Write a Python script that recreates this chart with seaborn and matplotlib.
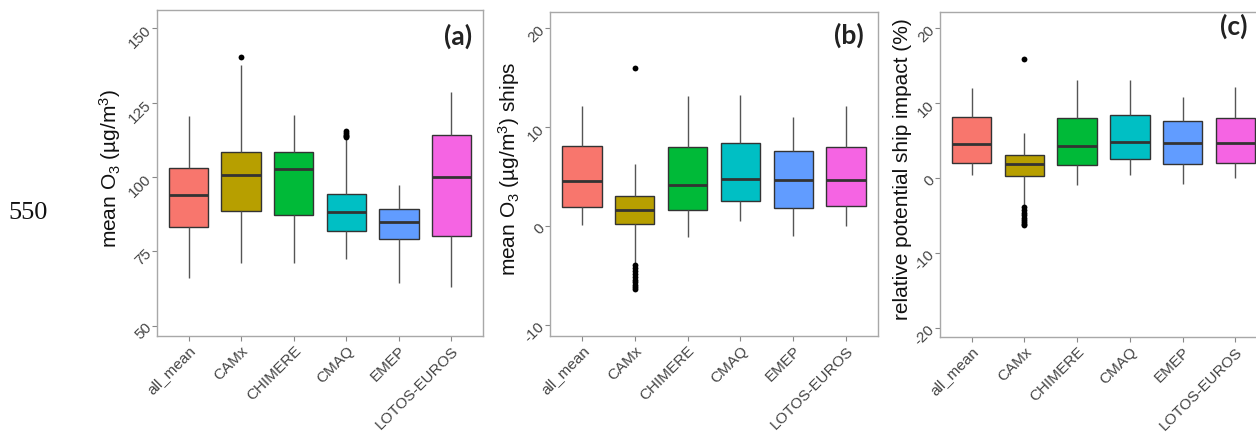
import numpy as np
import pandas as pd
import matplotlib
matplotlib.use("Agg")
import matplotlib.pyplot as plt
import seaborn as sns

# ---------------- data ----------------
models = ["all_mean", "CAMx", "CHIMERE", "CMAQ", "EMEP", "LOTOS-EUROS"]
colors = ["#F8766D", "#B79F00", "#00BA38", "#00BFC4", "#619CFF", "#F564E3"]

# panel (a): mean O3 (ug/m3)
a_low = [66.0, 71.0, 71.0, 72.3, 64.3, 63.0]
a_q1 = [83.3, 88.7, 87.3, 82.0, 79.3, 80.2]
a_med = [94.0, 100.7, 102.7, 88.3, 85.0, 100.0]
a_q3 = [103.0, 108.3, 108.3, 94.3, 89.3, 114.1]
a_high = [120.6, 137.7, 121.0, 112.7, 97.3, 128.6]
a_out_model = ["CAMx", "CMAQ", "CMAQ", "CMAQ", "CMAQ", "CMAQ"]
a_out_value = [140.3, 113.3, 113.8, 114.3, 114.8, 115.4]

# panel (b): mean O3 (ug/m3) ships
b_low = [0.1, -3.7, -1.1, 0.5, -1.0, 0.0]
b_q1 = [1.9, 0.2, 1.6, 2.5, 1.8, 2.0]
b_med = [4.5, 1.6, 4.1, 4.7, 4.6, 4.6]
b_q3 = [8.1, 3.0, 8.0, 8.4, 7.6, 8.0]
b_high = [12.1, 6.3, 13.1, 13.2, 11.0, 12.1]
b_out_model = ["CAMx"] * 11
b_out_value = [15.9, -3.9, -4.2, -4.5, -4.8, -5.1, -5.4, -5.7, -6.0, -6.2, -6.4]

# panel (c): relative potential ship impact (%)
c_low = [0.4, -3.6, -0.9, 0.4, -0.8, 0.0]
c_q1 = [2.0, 0.3, 1.7, 2.5, 1.9, 2.0]
c_med = [4.5, 1.9, 4.3, 4.8, 4.7, 4.7]
c_q3 = [8.1, 3.1, 8.0, 8.4, 7.6, 8.0]
c_high = [12.0, 6.0, 13.1, 13.1, 10.8, 12.1]
c_out_model = ["CAMx"] * 10
c_out_value = [15.9, -3.9, -4.3, -4.7, -5.0, -5.3, -5.6, -5.9, -6.1, -6.3]

a_ticks = [50, 75, 100, 125, 150]
b_ticks = [-10, 0, 10, 20]
c_ticks = [-20, -10, 0, 10, 20]


def box_table(low, q1, med, q3, high):
    """Weighted sample whose quartiles / extremes equal the read statistics."""
    rows = []
    for m, lo, a, b, c, hi in zip(models, low, q1, med, q3, high):
        vals = [lo] + [a] * 20 + [b] * 20 + [c] * 20 + [hi]
        rows += [(m, v) for v in vals]
    return pd.DataFrame(rows, columns=["model", "value"])


# ---------------- style ----------------
sns.set_theme(style="white")
plt.rcParams["font.family"] = ["Liberation Sans", "DejaVu Sans"]
plt.rcParams["mathtext.default"] = "regular"

W, H = 1256, 432
fig = plt.figure(figsize=(W / 100, H / 100), dpi=100)


def px_axes(left, top, right, bottom):
    return fig.add_axes([left / W, 1 - bottom / H, (right - left) / W, (bottom - top) / H])


panels = [
    dict(box=(157, 10, 483, 336), stats=(a_low, a_q1, a_med, a_q3, a_high),
         out=(a_out_model, a_out_value), ylim=(46.5, 156.2), ticks=a_ticks,
         ylabel=r"mean O$_3$ (µg/m$^3$)", labx=110, tag="(a)", tagpos=(458, 36)),
    dict(box=(550, 12, 878, 336), stats=(b_low, b_q1, b_med, b_q3, b_high),
         out=(b_out_model, b_out_value), ylim=(-11.1, 21.6), ticks=b_ticks,
         ylabel=r"mean O$_3$ (µg/m$^3$) ships", labx=509, tag="(b)", tagpos=(849, 35)),
    dict(box=(940, 12, 1267, 337), stats=(c_low, c_q1, c_med, c_q3, c_high),
         out=(c_out_model, c_out_value), ylim=(-21.2, 22.1), ticks=c_ticks,
         ylabel="relative potential ship impact (%)", labx=903, tag="(c)", tagpos=(1234, 26)),
]

edge = "#333333"
for p in panels:
    ax = px_axes(*p["box"])
    df = box_table(*p["stats"])
    sns.boxplot(data=df, x="model", y="value", hue="model", order=models,
                hue_order=models, palette=colors, saturation=1, width=0.75,
                whis=(0, 100), showfliers=False, showcaps=False, linewidth=1.0,
                linecolor=edge, legend=False, ax=ax,
                boxprops=dict(edgecolor=edge, linewidth=1.0),
                whiskerprops=dict(color="#555555", linewidth=1.0),
                medianprops=dict(color=edge, linewidth=2.0))
    odf = pd.DataFrame({"model": p["out"][0], "value": p["out"][1]})
    sns.stripplot(data=odf, x="model", y="value", order=models, color="black",
                  size=4.2, jitter=False, ax=ax, zorder=5)
    ax.set_xlim(-0.6, 5.6)
    ax.set_ylim(*p["ylim"])
    ax.set_yticks(p["ticks"])
    ax.set_yticklabels([str(t) for t in p["ticks"]])
    ax.set_xlabel("")
    ax.set_ylabel(p["ylabel"], fontsize=15, color="#111111")
    x0, x1 = p["box"][0], p["box"][2]
    ax.yaxis.set_label_coords((p["labx"] - x0) / (x1 - x0), 0.515)
    ax.yaxis.label.set_va("center")
    for s in ax.spines.values():
        s.set_color("#a8a8a8")
        s.set_linewidth(1.0)
    ax.tick_params(axis="both", length=3.5, width=0.8, color="#888888",
                   labelcolor="#444444", labelsize=11, direction="out",
                   bottom=True, left=True, pad=2)
    for lab in ax.get_xticklabels():
        lab.set_rotation(45)
        lab.set_ha("right")
        lab.set_va("top")
        lab.set_rotation_mode("anchor")
    for lab in ax.get_yticklabels():
        lab.set_rotation(45)
        lab.set_ha("right")
        lab.set_va("center")
        lab.set_rotation_mode("anchor")
    ax.grid(False)
    ax.set_facecolor("white")
    fig.text(p["tagpos"][0] / W, 1 - p["tagpos"][1] / H, p["tag"], ha="center",
             va="center", fontsize=19, color="#222222", family=["Lato", "DejaVu Sans"],
             fontweight="bold")

fig.text(28 / W, 1 - 213 / H, "550", ha="center", va="center", fontsize=19,
         family=["Liberation Serif", "DejaVu Serif"], color="#111111")

fig.savefig("out.png", dpi=100)
